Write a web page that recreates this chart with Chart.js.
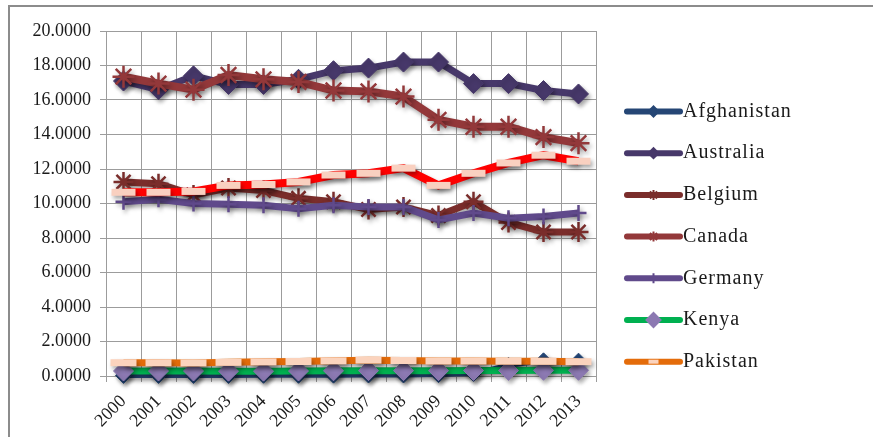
<!DOCTYPE html>
<html>
<head>
<meta charset="utf-8">
<title>Series 2000-2013</title>
<script src="https://cdn.jsdelivr.net/npm/chart.js@4/dist/chart.umd.min.js"></script>
<style>
    html, body { margin: 0; padding: 0; background: #fff; }
    #wrap { position: relative; width: 873px; height: 437px; overflow: hidden; }
    #frame { position: absolute; left: 8px; top: 5px; width: 900px; height: 500px; border: 2px solid #8c8c8c; }
    #chart { position: absolute; left: 0; top: 0; }
</style>
</head>
<body>
<div id="wrap">
    <div id="frame"></div>
    <canvas id="chart" width="873" height="437"></canvas>
</div>
<script>
// Chart data
const years = ['2000', '2001', '2002', '2003', '2004', '2005', '2006', '2007', '2008', '2009', '2010', '2011', '2012', '2013'];

const afghanistan = [0.03, 0.03, 0.03, 0.03, 0.04, 0.04, 0.05, 0.06, 0.06, 0.08, 0.15, 0.62, 0.88, 0.86];
const australia   = [17.10, 16.60, 17.40, 16.90, 16.90, 17.20, 17.70, 17.85, 18.20, 18.20, 16.95, 16.95, 16.55, 16.35];
const belgium     = [11.25, 11.15, 10.50, 10.90, 10.75, 10.30, 10.10, 9.65, 9.80, 9.30, 10.10, 8.90, 8.35, 8.35];
const canada      = [17.35, 16.95, 16.60, 17.45, 17.20, 17.05, 16.55, 16.50, 16.20, 14.85, 14.45, 14.45, 13.85, 13.50];
const germany     = [10.10, 10.25, 10.00, 9.95, 9.90, 9.70, 9.90, 9.80, 9.80, 9.05, 9.45, 9.15, 9.25, 9.45];
const kenya       = [0.29, 0.29, 0.29, 0.28, 0.28, 0.29, 0.30, 0.31, 0.31, 0.31, 0.32, 0.32, 0.33, 0.33];
const pakistan    = [0.77, 0.77, 0.76, 0.79, 0.82, 0.84, 0.88, 0.92, 0.90, 0.87, 0.87, 0.86, 0.85, 0.83];
// 8th series has no visible legend entry in the picture
const russia      = [10.65, 10.65, 10.70, 11.05, 11.10, 11.25, 11.65, 11.75, 12.05, 11.05, 11.75, 12.35, 12.80, 12.45];

const yTicks = [0, 2, 4, 6, 8, 10, 12, 14, 16, 18, 20];

const FONT = "'Liberation Serif', 'Times New Roman', serif";

// series styles: line colour, marker style
const series = [
    { label: 'Afghanistan', data: afghanistan, color: '#254675', width: 5, point: 'rectRot', pointColor: '#254675', radius: 8, pointWidth: 1, legend: true },
    { label: 'Australia',   data: australia,   color: '#47386a', width: 7, point: 'rectRot', pointColor: '#47386a', radius: 10, pointWidth: 1, legend: true },
    { label: 'Belgium',     data: belgium,     color: '#7a2d2b', width: 7, point: 'star', pointColor: '#7a2d2b', radius: 10, pointWidth: 2.5, legend: true },
    { label: 'Canada',      data: canada,      color: '#93383a', width: 8, point: 'star', pointColor: '#93383a', radius: 11, pointWidth: 2.5, legend: true },
    { label: 'Germany',     data: germany,     color: '#604a8b', width: 7, point: 'cross', pointColor: '#604a8b', radius: 8, pointWidth: 2.5, legend: true },
    { label: 'Kenya',       data: kenya,       color: '#00b050', width: 7, point: 'rectRot', pointColor: '#8c79b2', radius: 10, pointWidth: 1, legend: true },
    { label: 'Pakistan',    data: pakistan,    color: '#e46c0a', width: 7, point: 'line', pointColor: '#fbd3bd', radius: 13, pointWidth: 7, legend: true },
    { label: 'Russian Federation', data: russia, color: '#ff0000', width: 8, point: 'line', pointColor: '#f9d0c0', radius: 12, pointWidth: 7, legend: false }
];

const datasets = series.map((s, i) => ({
    label: s.label,
    data: s.data,
    borderColor: s.color,
    backgroundColor: s.pointColor,
    borderWidth: s.width,
    tension: 0,
    pointStyle: s.point,
    pointRadius: s.radius,
    pointBorderWidth: s.pointWidth,
    pointBorderColor: s.pointColor,
    pointBackgroundColor: s.pointColor,
    clip: false,
    order: series.length - i // first series at the bottom, like Excel
}));

// soft drop shadow under each series
const shadowPlugin = {
    id: 'shadow',
    beforeDatasetDraw(chart) {
        const ctx = chart.ctx;
        ctx.save();
        ctx.shadowColor = 'rgba(0, 0, 0, 0.35)';
        ctx.shadowBlur = 4;
        ctx.shadowOffsetX = 2;
        ctx.shadowOffsetY = 3;
    },
    afterDatasetDraw(chart) {
        chart.ctx.restore();
    }
};

// legend drawn on the right, line sample + marker + name
const sideLegend = {
    id: 'sideLegend',
    afterDraw(chart) {
        const ctx = chart.ctx;
        const x0 = 627, x1 = 680, top = 111.5, step = 41.7;
        let row = 0;
        series.forEach(s => {
            if (!s.legend) return;
            const y = top + row * step;
            ctx.save();
            ctx.lineCap = 'round';
            ctx.strokeStyle = s.color;
            ctx.lineWidth = 6;
            ctx.beginPath();
            ctx.moveTo(x0, y);
            ctx.lineTo(x1, y);
            ctx.stroke();

            ctx.fillStyle = s.pointColor;
            ctx.strokeStyle = s.pointColor;
            ctx.lineWidth = s.point === 'line' ? 4 : 2;
            ctx.lineCap = 'butt';
            const r = s.point === 'line' ? 5 : (s.label === 'Kenya' ? 7 : 5);
            Chart.helpers.drawPoint(ctx, { pointStyle: s.point, radius: r, rotation: 0, borderWidth: ctx.lineWidth }, (x0 + x1) / 2, y);

            ctx.fillStyle = '#1a1a1a';
            ctx.font = '20px ' + FONT;
            ctx.letterSpacing = '1px';
            ctx.textBaseline = 'middle';
            ctx.fillText(s.label, x1 + 3, y);
            ctx.restore();
            row++;
        });
    }
};

new Chart(document.getElementById('chart').getContext('2d'), {
    type: 'line',
    data: { labels: years, datasets: datasets },
    options: {
        responsive: false,
        animation: false,
        events: [],
        layout: { padding: { left: 0, top: 31, right: 277, bottom: 0 } },
        plugins: {
            legend: { display: false },
            tooltip: { enabled: false }
        },
        scales: {
            x: {
                type: 'category',
                offset: true,
                grid: { offset: true, color: '#9c9c9c', lineWidth: 1, tickLength: 6 },
                border: { color: '#9c9c9c' },
                ticks: {
                    color: '#1a1a1a',
                    font: { family: FONT, size: 18 },
                    minRotation: 45,
                    maxRotation: 45,
                    padding: 9,
                    autoSkip: false
                },
                afterFit(scale) { scale.height = 61; }
            },
            y: {
                min: 0,
                max: 20,
                afterBuildTicks(scale) { scale.ticks = yTicks.map(v => ({ value: v })); },
                grid: { color: '#9c9c9c', lineWidth: 1, tickLength: 6 },
                border: { color: '#9c9c9c' },
                ticks: {
                    color: '#1a1a1a',
                    font: { family: FONT, size: 18 },
                    padding: 9,
                    callback: v => Number(v).toFixed(4)
                },
                afterFit(scale) { scale.width = 106; }
            }
        }
    },
    plugins: [shadowPlugin, sideLegend]
});
</script>
</body>
</html>
